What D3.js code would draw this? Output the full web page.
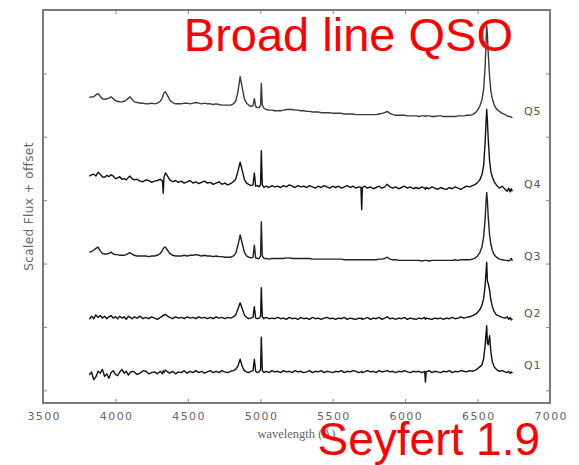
<!DOCTYPE html>
<html>
<head>
<meta charset="utf-8">
<script src="https://cdn.jsdelivr.net/npm/d3@7"></script>
<style>
  body { margin: 0; background: #fff; }
  .tick text { font-family: "DejaVu Sans", sans-serif; }
</style>
</head>
<body>
<div class="chart"></div>
<script>
var svgWidth = 579;
var svgHeight = 465;

// plot frame in pixels
var frame = { left: 43, right: 550, top: 10, bottom: 403 };

var xTicks = [3500, 4000, 4500, 5000, 5500, 6000, 6500, 7000];
var yTicks = [0, 1, 2, 3, 4, 5, 6];

// wavelength grid (Angstrom) shared by the five spectra
var wave = [
  3820, 3835, 3850, 3865, 3880, 3895, 3910, 3925, 3940, 3955,
  3970, 3985, 4000, 4015, 4030, 4045, 4060, 4075, 4090, 4101,
  4115, 4130, 4150, 4170, 4190, 4210, 4230, 4250, 4270, 4290,
  4310, 4325, 4330, 4335, 4345, 4360, 4375, 4395, 4415, 4435,
  4455, 4475, 4495, 4515, 4535, 4555, 4575, 4595, 4615, 4635,
  4655, 4675, 4695, 4715, 4735, 4755, 4775, 4795, 4815, 4830,
  4845, 4861, 4875, 4890, 4905, 4920, 4935, 4950, 4959, 4968,
  4980, 4992, 5002, 5007, 5014, 5025, 5040, 5060, 5080, 5100,
  5120, 5140, 5160, 5180, 5200, 5220, 5240, 5260, 5280, 5300,
  5320, 5340, 5360, 5380, 5400, 5420, 5440, 5460, 5480, 5500,
  5520, 5540, 5560, 5580, 5600, 5620, 5640, 5660, 5680, 5695,
  5700, 5705, 5720, 5740, 5760, 5780, 5800, 5820, 5840, 5860,
  5876, 5895, 5915, 5935, 5955, 5975, 5995, 6015, 6035, 6055,
  6075, 6095, 6115, 6135, 6140, 6145, 6165, 6185, 6205, 6225,
  6245, 6265, 6285, 6305, 6325, 6345, 6365, 6385, 6405, 6425,
  6445, 6465, 6485, 6500, 6515, 6530, 6542, 6552, 6558, 6563,
  6568, 6574, 6583, 6592, 6602, 6615, 6630, 6650, 6670, 6690,
  6705, 6715, 6725, 6733, 6740
];

// scaled flux + offset
var q5 = [
  4.62, 4.63, 4.63, 4.66, 4.68, 4.64, 4.60, 4.59, 4.60, 4.61,
  4.63, 4.60, 4.57, 4.56, 4.55, 4.55, 4.56, 4.58, 4.61, 4.63,
  4.59, 4.55, 4.54, 4.53, 4.53, 4.52, 4.52, 4.53, 4.52, 4.53,
  4.56, 4.62, 4.66, 4.69, 4.71, 4.65, 4.58, 4.54, 4.52, 4.52,
  4.52, 4.53, 4.53, 4.52, 4.53, 4.54, 4.53, 4.52, 4.53, 4.52,
  4.52, 4.51, 4.52, 4.51, 4.50, 4.50, 4.50, 4.50, 4.52, 4.56,
  4.70, 4.95, 4.78, 4.60, 4.53, 4.50, 4.48, 4.49, 4.60, 4.48,
  4.46, 4.46, 4.50, 4.84, 4.50, 4.45, 4.43, 4.42, 4.42, 4.41,
  4.41, 4.41, 4.42, 4.43, 4.43, 4.43, 4.42, 4.42, 4.41, 4.41,
  4.40, 4.40, 4.39, 4.39, 4.39, 4.38, 4.38, 4.38, 4.38, 4.37,
  4.37, 4.37, 4.37, 4.36, 4.36, 4.36, 4.36, 4.35, 4.35, 4.35,
  4.35, 4.35, 4.35, 4.35, 4.35, 4.35, 4.35, 4.36, 4.37, 4.38,
  4.40, 4.37, 4.35, 4.34, 4.34, 4.34, 4.34, 4.33, 4.33, 4.33,
  4.33, 4.32, 4.33, 4.33, 4.32, 4.33, 4.33, 4.32, 4.32, 4.33,
  4.33, 4.32, 4.32, 4.32, 4.32, 4.32, 4.33, 4.33, 4.33, 4.34,
  4.34, 4.35, 4.38, 4.42, 4.48, 4.58, 4.75, 5.10, 5.45, 5.75,
  5.60, 5.30, 4.95, 4.72, 4.60, 4.50, 4.44, 4.40, 4.37, 4.35,
  4.33, 4.32, 4.32, 4.31, 4.30
];

var q4 = [
  3.38, 3.40, 3.41, 3.38, 3.44, 3.41, 3.37, 3.36, 3.39, 3.37,
  3.40, 3.38, 3.34, 3.35, 3.37, 3.33, 3.34, 3.32, 3.36, 3.38,
  3.34, 3.32, 3.33, 3.30, 3.29, 3.32, 3.31, 3.28, 3.30, 3.31,
  3.33, 3.30, 3.11, 3.36, 3.43, 3.38, 3.32, 3.29, 3.31, 3.28,
  3.30, 3.27, 3.29, 3.31, 3.27, 3.29, 3.26, 3.28, 3.30, 3.27,
  3.28, 3.25, 3.27, 3.29, 3.25, 3.27, 3.24, 3.26, 3.29, 3.33,
  3.45, 3.60, 3.47, 3.33, 3.27, 3.25, 3.23, 3.24, 3.43, 3.22,
  3.23, 3.21, 3.25, 3.78, 3.24, 3.20, 3.22, 3.20, 3.23, 3.21,
  3.22, 3.20, 3.23, 3.21, 3.24, 3.22, 3.20, 3.23, 3.21, 3.22,
  3.20, 3.23, 3.21, 3.19, 3.22, 3.20, 3.23, 3.21, 3.19, 3.22,
  3.20, 3.22, 3.19, 3.21, 3.23, 3.20, 3.22, 3.19, 3.21, 3.20,
  2.85, 3.20, 3.22, 3.19, 3.21, 3.18, 3.20, 3.22, 3.19, 3.21,
  3.25, 3.21, 3.19, 3.21, 3.18, 3.20, 3.22, 3.19, 3.21, 3.18,
  3.20, 3.18, 3.21, 3.19, 3.17, 3.20, 3.18, 3.21, 3.19, 3.17,
  3.20, 3.18, 3.17, 3.20, 3.18, 3.21, 3.19, 3.17, 3.20, 3.22,
  3.21, 3.23, 3.25, 3.28, 3.32, 3.40, 3.55, 3.90, 4.20, 4.43,
  4.25, 3.95, 3.62, 3.45, 3.36, 3.29, 3.24, 3.19, 3.22, 3.17,
  3.14, 3.19, 3.13, 3.18, 3.14
];

var q3 = [
  2.18, 2.19, 2.21, 2.24, 2.26, 2.20, 2.16, 2.15, 2.15, 2.16,
  2.18, 2.15, 2.14, 2.14, 2.13, 2.13, 2.13, 2.14, 2.16, 2.17,
  2.15, 2.13, 2.12, 2.12, 2.12, 2.12, 2.11, 2.12, 2.12, 2.13,
  2.16, 2.21, 2.23, 2.25, 2.26, 2.21, 2.16, 2.13, 2.12, 2.12,
  2.12, 2.13, 2.12, 2.13, 2.13, 2.14, 2.13, 2.12, 2.13, 2.12,
  2.12, 2.11, 2.12, 2.11, 2.11, 2.10, 2.10, 2.10, 2.12, 2.16,
  2.28, 2.45, 2.32, 2.18, 2.12, 2.10, 2.09, 2.10, 2.29, 2.09,
  2.08, 2.08, 2.12, 2.66, 2.12, 2.08, 2.08, 2.07, 2.08, 2.08,
  2.08, 2.08, 2.08, 2.09, 2.09, 2.08, 2.08, 2.08, 2.08, 2.08,
  2.08, 2.08, 2.07, 2.07, 2.07, 2.07, 2.07, 2.07, 2.07, 2.07,
  2.07, 2.07, 2.07, 2.06, 2.06, 2.06, 2.06, 2.06, 2.06, 2.06,
  2.06, 2.06, 2.06, 2.06, 2.06, 2.06, 2.06, 2.07, 2.07, 2.08,
  2.10, 2.07, 2.06, 2.06, 2.05, 2.05, 2.05, 2.05, 2.05, 2.05,
  2.05, 2.05, 2.04, 2.05, 2.05, 2.05, 2.04, 2.05, 2.05, 2.05,
  2.05, 2.05, 2.05, 2.05, 2.05, 2.06, 2.05, 2.06, 2.06, 2.06,
  2.06, 2.07, 2.09, 2.12, 2.17, 2.26, 2.42, 2.70, 2.95, 3.12,
  2.98, 2.72, 2.45, 2.30, 2.21, 2.14, 2.10, 2.07, 2.06, 2.05,
  2.05, 2.04, 2.06, 2.08, 2.04
];

var q2 = [
  1.12, 1.17, 1.13, 1.19, 1.15, 1.18, 1.14, 1.17, 1.13, 1.16,
  1.18, 1.14, 1.16, 1.13, 1.17, 1.14, 1.16, 1.12, 1.17, 1.15,
  1.13, 1.16, 1.14, 1.17, 1.13, 1.15, 1.13, 1.16, 1.14, 1.12,
  1.15, 1.17, 1.19, 1.18, 1.20, 1.17, 1.15, 1.13, 1.16, 1.14,
  1.15, 1.13, 1.16, 1.14, 1.15, 1.13, 1.16, 1.14, 1.15, 1.13,
  1.15, 1.13, 1.16, 1.14, 1.15, 1.13, 1.15, 1.14, 1.16, 1.19,
  1.28, 1.38, 1.29, 1.19, 1.15, 1.13, 1.14, 1.15, 1.32, 1.14,
  1.13, 1.14, 1.17, 1.62, 1.16, 1.13, 1.15, 1.13, 1.14, 1.13,
  1.15, 1.13, 1.14, 1.12, 1.15, 1.13, 1.14, 1.12, 1.15, 1.13,
  1.14, 1.12, 1.15, 1.13, 1.14, 1.12, 1.14, 1.15, 1.13, 1.14,
  1.12, 1.14, 1.13, 1.15, 1.12, 1.14, 1.13, 1.12, 1.14, 1.13,
  1.14, 1.12, 1.13, 1.15, 1.12, 1.14, 1.13, 1.15, 1.12, 1.14,
  1.16, 1.13, 1.14, 1.12, 1.14, 1.13, 1.15, 1.12, 1.14, 1.13,
  1.12, 1.14, 1.13, 1.15, 1.12, 1.14, 1.13, 1.12, 1.14, 1.13,
  1.14, 1.12, 1.14, 1.13, 1.15, 1.13, 1.14, 1.16, 1.14, 1.15,
  1.16, 1.18, 1.20, 1.23, 1.27, 1.34, 1.45, 1.65, 1.85, 2.02,
  1.72, 1.68, 1.58, 1.42, 1.32, 1.24, 1.19, 1.17, 1.15, 1.14,
  1.16, 1.12, 1.15, 1.11, 1.13
];

var q1 = [
  0.24, 0.29, 0.17, 0.21, 0.30, 0.27, 0.33, 0.22, 0.26, 0.19,
  0.28, 0.31, 0.25, 0.23, 0.29, 0.33, 0.27, 0.30, 0.24, 0.28,
  0.30, 0.29, 0.25, 0.27, 0.31, 0.30, 0.26, 0.28, 0.29, 0.26,
  0.30, 0.26, 0.31, 0.28, 0.32, 0.29, 0.27, 0.30, 0.26, 0.29,
  0.28, 0.31, 0.27, 0.30, 0.28, 0.31, 0.28, 0.30, 0.27, 0.29,
  0.31, 0.28, 0.30, 0.28, 0.31, 0.29, 0.28, 0.30, 0.31, 0.33,
  0.38, 0.49, 0.38, 0.31, 0.29, 0.28, 0.30, 0.31, 0.49, 0.30,
  0.28, 0.29, 0.33, 0.84, 0.31, 0.28, 0.30, 0.28, 0.31, 0.29,
  0.30, 0.28, 0.31, 0.29, 0.30, 0.28, 0.31, 0.29, 0.30, 0.28,
  0.29, 0.31, 0.28, 0.30, 0.29, 0.31, 0.28, 0.30, 0.29, 0.28,
  0.30, 0.29, 0.31, 0.28, 0.30, 0.29, 0.31, 0.30, 0.28, 0.29,
  0.30, 0.28, 0.29, 0.31, 0.29, 0.30, 0.28, 0.31, 0.29, 0.30,
  0.31, 0.29, 0.30, 0.28, 0.30, 0.29, 0.31, 0.29, 0.28, 0.30,
  0.29, 0.30, 0.28, 0.30, 0.13, 0.29, 0.31, 0.28, 0.30, 0.29,
  0.28, 0.30, 0.29, 0.31, 0.28, 0.30, 0.29, 0.31, 0.30, 0.29,
  0.31, 0.30, 0.32, 0.34, 0.37, 0.40, 0.50, 0.70, 0.88, 1.02,
  0.74, 0.72, 0.86, 0.60, 0.45, 0.37, 0.33, 0.30, 0.31, 0.29,
  0.28, 0.30, 0.27, 0.29, 0.27
];

var seriesNames = ["Q1", "Q2", "Q3", "Q4", "Q5"];
var seriesFlux = [q1, q2, q3, q4, q5];
var labelWave = 6820;
var labelLevel = [0.39, 1.21, 2.12, 3.26, 4.41];

var svg = d3.select(".chart")
  .append("svg")
    .attr("width", svgWidth)
    .attr("height", svgHeight)
    .style("display", "block");

var xScale = d3.scaleLinear().domain([3500, 7000]).range([frame.left, frame.right]);
var yScale = d3.scaleLinear().domain([-0.2, 6]).range([frame.bottom, frame.top]);

// ticks point inward on all four sides, matplotlib style
function styleAxis(g) {
  g.select(".domain").remove();
  g.selectAll(".tick line").attr("stroke", "#888").attr("stroke-width", 1);
}

svg.append("g")
  .attr("transform", "translate(0," + frame.bottom + ")")
  .call(d3.axisBottom(xScale).tickValues(xTicks).tickSize(-4).tickPadding(9).tickFormat(d3.format("d")))
  .call(styleAxis)
  .call(function(g) {
    g.selectAll(".tick text")
      .attr("fill", "#666")
      .attr("font-size", "11px")
      .attr("letter-spacing", "1.4px")
      .attr("dx", "0.7px");
  });

svg.append("g")
  .attr("transform", "translate(0," + frame.top + ")")
  .call(d3.axisTop(xScale).tickValues(xTicks).tickSize(-4).tickFormat(""))
  .call(styleAxis);

svg.append("g")
  .attr("transform", "translate(" + frame.left + ",0)")
  .call(d3.axisLeft(yScale).tickValues(yTicks).tickSize(-4).tickFormat(""))
  .call(styleAxis);

svg.append("g")
  .attr("transform", "translate(" + frame.right + ",0)")
  .call(d3.axisRight(yScale).tickValues(yTicks).tickSize(-4).tickFormat(""))
  .call(styleAxis);

svg.append("rect")
  .attr("x", frame.left)
  .attr("y", frame.top)
  .attr("width", frame.right - frame.left)
  .attr("height", frame.bottom - frame.top)
  .attr("fill", "none")
  .attr("stroke", "#7a7a7a")
  .attr("stroke-width", 2);

var line = d3.line()
  .x(function(d, i) { return xScale(wave[i]); })
  .y(function(d) { return yScale(d); });

var strokeColours = ["#111", "#111", "#222", "#111", "#3a3a3a"];

svg.selectAll("path.spectrum")
  .data(seriesFlux)
  .enter().append("path")
    .attr("class", "spectrum")
    .attr("d", line)
    .attr("fill", "none")
    .attr("stroke", function(d, i) { return strokeColours[i]; })
    .attr("stroke-width", 1.4)
    .attr("stroke-linejoin", "round");

svg.selectAll("text.qlabel")
  .data(seriesNames)
  .enter().append("text")
    .attr("class", "qlabel")
    .attr("x", xScale(labelWave))
    .attr("y", function(d, i) { return yScale(labelLevel[i]); })
    .attr("dy", "0.35em")
    .attr("font-family", "DejaVu Sans, sans-serif")
    .attr("font-size", "11px")
    .attr("letter-spacing", "0.8px")
    .attr("fill", "#555")
    .text(function(d) { return d; });

// axis titles
svg.append("text")
  .attr("transform", "translate(33," + ((frame.top + frame.bottom) / 2) + ") rotate(-90)")
  .attr("text-anchor", "middle")
  .attr("font-family", "DejaVu Sans, sans-serif")
  .attr("font-size", "12px")
  .attr("letter-spacing", "0.4px")
  .attr("fill", "#666")
  .text("Scaled Flux + offset");

svg.append("text")
  .attr("x", (frame.left + frame.right) / 2)
  .attr("y", 438)
  .attr("text-anchor", "middle")
  .attr("font-family", "Liberation Serif, serif")
  .attr("font-size", "12.5px")
  .attr("fill", "#666")
  .text("wavelength (Å)");

// red annotations laid over the figure
svg.append("text")
  .attr("x", 513)
  .attr("y", 51)
  .attr("text-anchor", "end")
  .attr("font-family", "Liberation Sans, Arial, sans-serif")
  .attr("font-size", "47px")
  .attr("fill", "#ff0000")
  .text("Broad line QSO");

svg.append("text")
  .attr("x", 540)
  .attr("y", 455)
  .attr("text-anchor", "end")
  .attr("font-family", "Liberation Sans, Arial, sans-serif")
  .attr("font-size", "46px")
  .attr("fill", "#ff0000")
  .text("Seyfert 1.9");
</script>
</body>
</html>
